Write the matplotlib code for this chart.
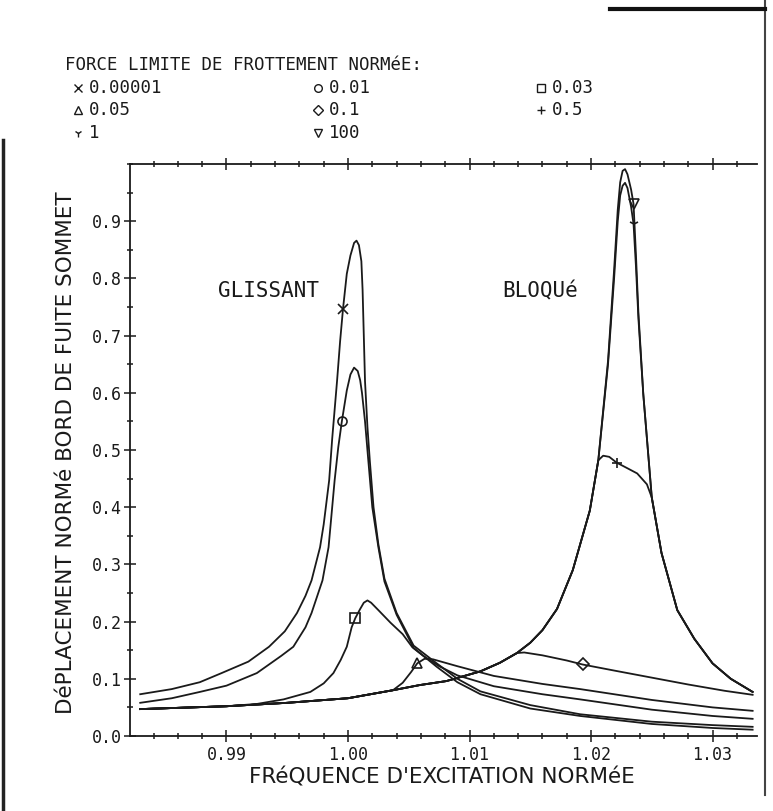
import matplotlib
matplotlib.use("Agg")
import matplotlib.pyplot as plt
from matplotlib.lines import Line2D
from matplotlib.ticker import MultipleLocator, FormatStrFormatter

# normalised friction limits, as listed in the header
friction_labels = ["0.00001", "0.01", "0.03", "0.05", "0.1", "0.5", "1", "100"]
friction_markers = ["x", "o", "s", "^", "D", "+", "1", "v"]

# sliding branch, friction 0.00001
freq_a = [0.9829, 0.9855, 0.9878, 0.9896, 0.9918, 0.9935, 0.9948, 0.9958, 0.9965, 0.9970,
          0.9977, 0.9980, 0.99845, 0.9987, 0.9991, 0.99935, 0.99959, 0.9999, 1.0002, 1.0005,
          1.0007, 1.0009, 1.0011, 1.0012, 1.0013, 1.0014, 1.0016, 1.0018, 1.0021, 1.0025,
          1.0030, 1.0040, 1.0054, 1.0073, 1.0090, 1.0109, 1.0150, 1.0191, 1.0250, 1.0300,
          1.0333]
amp_a = [0.073, 0.082, 0.094, 0.110, 0.130, 0.156, 0.183, 0.215, 0.245, 0.272,
         0.330, 0.370, 0.447, 0.520, 0.621, 0.690, 0.747, 0.808, 0.840, 0.862,
         0.866, 0.858, 0.830, 0.780, 0.700, 0.620, 0.540, 0.480, 0.400, 0.335,
         0.275, 0.215, 0.158, 0.127, 0.100, 0.078, 0.054, 0.038, 0.025, 0.019,
         0.016]

# friction 0.01
freq_b = [0.9829, 0.9855, 0.9878, 0.9900, 0.9925, 0.9945, 0.9955, 0.9965, 0.9970, 0.9979,
          0.9984, 0.9989, 0.9992, 0.9995, 0.9999, 1.0002, 1.0005, 1.0008, 1.0010, 1.00115,
          1.0014, 1.00165, 1.0020, 1.0025, 1.0030, 1.0040, 1.0054, 1.0073, 1.0090, 1.0109,
          1.0150, 1.0191, 1.0250, 1.0300, 1.0333]
amp_b = [0.058, 0.066, 0.077, 0.088, 0.110, 0.140, 0.156, 0.190, 0.215, 0.272,
         0.330, 0.447, 0.505, 0.551, 0.604, 0.632, 0.644, 0.638, 0.622, 0.600,
         0.550, 0.487, 0.400, 0.330, 0.270, 0.212, 0.154, 0.121, 0.094, 0.073,
         0.048, 0.035, 0.021, 0.014, 0.011]

# friction 0.03
freq_c = [0.9829, 0.9900, 0.9925, 0.9947, 0.9969, 0.9980, 0.9988, 0.9994, 0.9999, 1.0003,
          1.0006, 1.0010, 1.0013, 1.0016, 1.0019, 1.0025, 1.0035, 1.0045, 1.0053, 1.0062,
          1.0075, 1.0090, 1.0120, 1.0160, 1.0191, 1.0250, 1.0300, 1.0333]
amp_c = [0.047, 0.052, 0.056, 0.064, 0.077, 0.092, 0.110, 0.133, 0.156, 0.190,
         0.206, 0.222, 0.233, 0.237, 0.233, 0.220, 0.198, 0.178, 0.155, 0.140,
         0.122, 0.106, 0.087, 0.073, 0.064, 0.046, 0.035, 0.030]

# friction 0.05
freq_d = [0.9829, 0.9900, 0.9950, 1.0000, 1.0037, 1.0045, 1.0052, 1.0057, 1.0063, 1.0070,
          1.0090, 1.0120, 1.0160, 1.0191, 1.0250, 1.0300, 1.0333]
amp_d = [0.047, 0.052, 0.058, 0.066, 0.080, 0.093, 0.112, 0.127, 0.135, 0.134,
         0.122, 0.105, 0.091, 0.082, 0.063, 0.050, 0.044]

# friction 0.1
freq_e = [0.9829, 0.9900, 0.9950, 1.0000, 1.0037, 1.0059, 1.0081, 1.0109, 1.0125, 1.0139,
          1.0145, 1.0160, 1.0180, 1.0193, 1.0220, 1.0250, 1.0280, 1.0310, 1.0333]
amp_e = [0.047, 0.052, 0.058, 0.066, 0.080, 0.089, 0.096, 0.113, 0.128, 0.145,
         0.146, 0.141, 0.132, 0.125, 0.114, 0.102, 0.090, 0.079, 0.072]

# friction 0.5
freq_f = [0.9829, 0.9900, 0.9950, 1.0000, 1.0037, 1.0059, 1.0081, 1.0109, 1.0125, 1.0139,
          1.0150, 1.0160, 1.0172, 1.0185, 1.0199, 1.0206, 1.0210, 1.0215, 1.0221, 1.0230,
          1.0238, 1.0246, 1.0250, 1.0258, 1.0271, 1.0285, 1.0300, 1.0315, 1.0333]
amp_f = [0.047, 0.052, 0.058, 0.066, 0.080, 0.089, 0.096, 0.113, 0.128, 0.145,
         0.163, 0.185, 0.222, 0.290, 0.394, 0.482, 0.490, 0.488, 0.478, 0.468,
         0.459, 0.440, 0.417, 0.320, 0.220, 0.170, 0.127, 0.100, 0.077]

# stuck branch, friction 1 and 100
freq_lock = [0.9829, 0.9900, 0.9950, 1.0000, 1.0037, 1.0059, 1.0081, 1.0109, 1.0125, 1.0139,
             1.0150, 1.0160, 1.0172, 1.0185, 1.0199, 1.0206, 1.0214, 1.0219, 1.0222, 1.0224,
             1.0226, 1.0228, 1.0230, 1.0233, 1.0235, 1.0237, 1.0239, 1.0243, 1.0250, 1.0258,
             1.0271, 1.0285, 1.0300, 1.0315, 1.0333]
amp_g = [0.047, 0.052, 0.058, 0.066, 0.080, 0.089, 0.096, 0.113, 0.128, 0.145,
         0.163, 0.185, 0.222, 0.290, 0.394, 0.482, 0.650, 0.800, 0.900, 0.945,
         0.962, 0.967, 0.958, 0.925, 0.895, 0.820, 0.730, 0.598, 0.417, 0.320,
         0.220, 0.170, 0.127, 0.100, 0.077]
amp_h = [0.047, 0.052, 0.058, 0.066, 0.080, 0.089, 0.096, 0.113, 0.128, 0.145,
         0.163, 0.185, 0.222, 0.290, 0.394, 0.482, 0.656, 0.815, 0.920, 0.968,
         0.988, 0.991, 0.982, 0.955, 0.930, 0.840, 0.740, 0.598, 0.417, 0.320,
         0.220, 0.170, 0.127, 0.100, 0.077]

curves = [(freq_a, amp_a), (freq_b, amp_b), (freq_c, amp_c), (freq_d, amp_d),
          (freq_e, amp_e), (freq_f, amp_f), (freq_lock, amp_g), (freq_lock, amp_h)]

# one symbol per curve
mark_freq = [0.99959, 0.9995, 1.0006, 1.0057, 1.0193, 1.0221, 1.0235, 1.0235]
mark_amp = [0.747, 0.551, 0.206, 0.127, 0.125, 0.478, 0.895, 0.930]

xticks = [0.99, 1.00, 1.01, 1.02, 1.03]

MONO = "DejaVu Sans Mono"
INK = "#1a1a1a"

fig = plt.figure(figsize=(7.73, 8.11), dpi=100)
ax = fig.add_axes([0.1682, 0.0925, 0.8111, 0.7053])

for (f, a), mk, mx, my in zip(curves, friction_markers, mark_freq, mark_amp):
    ax.plot(f, a, color=INK, lw=1.3, solid_joinstyle="round")
    ax.plot([mx], [my], marker=mk, ms=6.5, mew=1.2, mfc="none", mec=INK, ls="none")

ax.set_xlim(0.98206, 1.03366)
ax.set_ylim(0.0, 1.0)
ax.set_xticks(xticks)
ax.xaxis.set_minor_locator(MultipleLocator(0.002))
ax.yaxis.set_minor_locator(MultipleLocator(0.05))
ax.xaxis.set_major_formatter(FormatStrFormatter("%.2f"))
ax.yaxis.set_major_formatter(FormatStrFormatter("%.1f"))
ax.set_yticks([0.1 * i for i in range(10)])

ax.tick_params(which="both", direction="inout", top=True, right=False,
               color=INK, width=1.1)
ax.tick_params(which="major", length=8)
ax.tick_params(which="minor", length=4)
ax.tick_params(axis="x", pad=3.5)
ax.tick_params(axis="y", pad=2)
for lab in ax.get_xticklabels() + ax.get_yticklabels():
    lab.set_fontfamily(MONO)
    lab.set_fontsize(12)
    lab.set_color(INK)

ax.spines["right"].set_visible(False)
for s in ["left", "bottom", "top"]:
    ax.spines[s].set_linewidth(1.3)
    ax.spines[s].set_color(INK)

ax.text(0.9893, 0.778, "GLISSANT", family=MONO, fontsize=15, color=INK, va="center")
ax.text(1.01267, 0.778, "BLOQUé", family=MONO, fontsize=15, color=INK, va="center")

fig.text(442 / 773, 1 - 777 / 811, "FRéQUENCE D'EXCITATION NORMéE",
         family="DejaVu Sans", fontsize=15.5, color=INK, ha="center", va="center")
fig.text(66 / 773, 1 - 453 / 811, "DéPLACEMENT NORMé BORD DE FUITE SOMMET",
         family="DejaVu Sans", fontsize=15.5, color=INK, ha="center", va="center",
         rotation=90)

# header with the symbol key, three per row
fig.text(65 / 773, 1 - 65 / 811, "FORCE LIMITE DE FROTTEMENT NORMéE:",
         family=MONO, fontsize=12.5, color=INK, va="center")
col_x = [78, 318, 541]
row_y = [88, 110, 133]
for i, (lab, mk) in enumerate(zip(friction_labels, friction_markers)):
    cx = col_x[i % 3] / 773
    cy = 1 - row_y[i // 3] / 811
    fig.add_artist(Line2D([cx], [cy], marker=mk, ms=5.5, mew=1.0, mfc="none",
                          mec=INK, ls="none", transform=fig.transFigure))
    fig.text(cx + 11 / 773, cy, lab, family=MONO, fontsize=12.5, color=INK, va="center")

# scan edges
fig.add_artist(Line2D([765 / 773, 765 / 773], [0.02, 1.0], color="#444", lw=1.5,
                      transform=fig.transFigure))
fig.add_artist(Line2D([610 / 773, 765 / 773], [1 - 9 / 811, 1 - 9 / 811], color="#111",
                      lw=3, transform=fig.transFigure))
fig.add_artist(Line2D([3 / 773, 3 / 773], [0.0, 1 - 140 / 811], color="#222", lw=2.5,
                      transform=fig.transFigure))

fig.savefig("out.png", dpi=100, facecolor="white")
